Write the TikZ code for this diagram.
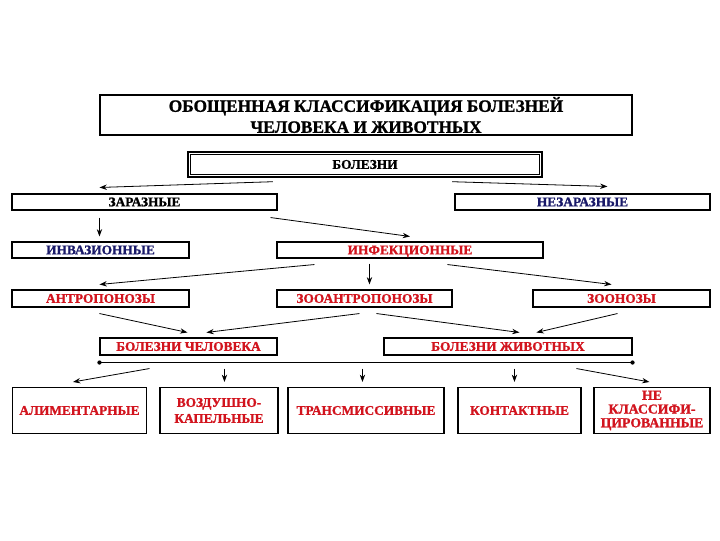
\documentclass[tikz,border=0pt]{standalone}
\usepackage{fontspec}
\setmainfont{Liberation Serif}[BoldFont={Liberation Serif Bold},BoldFeatures={FakeBold=1.2}]
\usetikzlibrary{arrows.meta,calc}
\definecolor{dred}{RGB}{210,20,30}
\definecolor{navy}{RGB}{25,25,105}
\tikzset{
  box/.style={draw=black,line width=0.8pt,fill=white,inner sep=0pt,align=center,
    font=\bfseries\fontsize{10}{11}\selectfont},
  one/.style={text height=7pt,text depth=0.5pt},
  bigbox/.style={box,font=\bfseries\fontsize{10}{12}\selectfont},
  arr/.style={-{Stealth[length=5.5pt,width=4pt]},line width=0.6pt},
  hline/.style={line width=0.9pt},
  dot/.style={circle,fill=black,inner sep=0pt,minimum size=3.2pt}
}
\begin{document}
\begin{tikzpicture}[x=0.75pt,y=-0.75pt]
\useasboundingbox (0,0) rectangle (720,540);
% title
\node[box,minimum width=399pt,minimum height=30pt,font=\bfseries\fontsize{13}{15.75}\selectfont] (title) at (366,115)
  {ОБОЩЕННАЯ КЛАССИФИКАЦИЯ БОЛЕЗНЕЙ\\ЧЕЛОВЕКА И ЖИВОТНЫХ};
% level 1
\node[box,one,line width=1.3pt,minimum width=266pt,minimum height=18.5pt] (bol) at (365,164.5) {БОЛЕЗНИ};
\draw[line width=0.6pt] ($(bol.north west)+(3.5,3.5)$) rectangle ($(bol.south east)+(-3.5,-3.5)$);
% level 2
\node[box,one,minimum width=198.75pt,minimum height=12pt] (zar) at (144.5,202) {ЗАРАЗНЫЕ};
\node[box,one,text=navy,minimum width=191.25pt,minimum height=12pt] (nezar) at (582.5,202) {НЕЗАРАЗНЫЕ};
% level 3
\node[box,one,text=navy,minimum width=132.75pt,minimum height=12pt] (inv) at (100.5,250) {ИНВАЗИОННЫЕ};
\node[box,one,text=dred,minimum width=199.5pt,minimum height=12pt] (inf) at (410,250) {ИНФЕКЦИОННЫЕ};
% level 4
\node[box,one,text=dred,minimum width=132.75pt,minimum height=12.75pt] (antr) at (100.5,298.5) {АНТРОПОНОЗЫ};
\node[box,one,text=dred,minimum width=131.25pt,minimum height=12.75pt] (zooantr) at (364.5,298.5) {ЗООАНТРОПОНОЗЫ};
\node[box,one,text=dred,minimum width=132.75pt,minimum height=12.75pt] (zoon) at (621.5,298.5) {ЗООНОЗЫ};
% level 5
\node[box,one,text=dred,minimum width=132.75pt,minimum height=12.75pt] (chel) at (188.5,346.5) {БОЛЕЗНИ ЧЕЛОВЕКА};
\node[box,one,text=dred,minimum width=186pt,minimum height=12.75pt] (zhiv) at (508,346.5) {БОЛЕЗНИ ЖИВОТНЫХ};
% level 6
\node[bigbox,one,text=dred,minimum width=100.5pt,minimum height=34.5pt] (alim) at (79.5,410.5) {АЛИМЕНТАРНЫЕ};
\node[bigbox,text=dred,minimum width=88.5pt,minimum height=34.5pt] (vozd) at (219,410.5) {ВОЗДУШНО-\\КАПЕЛЬНЫЕ};
\node[bigbox,one,text=dred,minimum width=117pt,minimum height=34.5pt] (trans) at (366,410.5) {ТРАНСМИССИВНЫЕ};
\node[bigbox,one,text=dred,minimum width=92.25pt,minimum height=34.5pt] (kont) at (519.5,410.5) {КОНТАКТНЫЕ};
\node[bigbox,text=dred,minimum width=87pt,minimum height=34.5pt,font=\bfseries\fontsize{10.3}{10.3}\selectfont] (nekl) at (652,410.5) {НЕ\\КЛАССИФИ-\\ЦИРОВАННЫЕ};
% connectors
\draw[arr] ($(bol.south west)+(86,4)$) -- ($(zar.north west)+(88,-6)$);
\draw[arr] ($(bol.south east)+(-91,4)$) -- ($(nezar.north west)+(153,-7)$);
\draw[arr] ($(zar.south west)+(88,7)$) -- ($(inv.north west)+(88,-5)$);
\draw[arr] ($(zar.south east)+(-7,7)$) -- ($(inf.north)+(0,-5)$);
\draw[arr] ($(inf.south west)+(38,6)$) -- ($(antr.north west)+(88,-5)$);
\draw[arr] ($(inf.south west)+(93,5)$) -- ($(zooantr.north west)+(93,-5)$);
\draw[arr] ($(inf.south west)+(171,6)$) -- ($(zoon.north west)+(79,-5)$);
\draw[arr] ($(antr.south west)+(88,6)$) -- ($(chel.north west)+(88,-5)$);
\draw[arr] ($(zooantr.south west)+(83,6)$) -- ($(chel.north west)+(107,-5)$);
\draw[arr] ($(zooantr.south west)+(100,6)$) -- ($(zhiv.north west)+(136,-5)$);
\draw[arr] ($(zoon.south west)+(85,6)$) -- ($(zhiv.north west)+(153,-5)$);
% horizontal collector line
\coordinate (hl) at ($(chel.south west)+(0,7)$);
\coordinate (hr) at ($(zhiv.south east)+(0,7)$);
\draw[hline] (hl) -- (hr);
\node[dot] at (hl) {};
\node[dot] at (hr) {};
\draw[arr] ($(hl)+(50,6)$) -- ($(alim.north west)+(61,-5)$);
\draw[arr] ($(hl)+(125,6)$) -- ($(vozd.north west)+(65,-5)$);
\draw[arr] ($(hl)+(263,6)$) -- ($(trans.north west)+(75,-5)$);
\draw[arr] ($(hl)+(415,6)$) -- ($(kont.north west)+(57,-5)$);
\draw[arr] ($(hl)+(477,6)$) -- ($(nekl.north west)+(56,-5)$);
\end{tikzpicture}
\end{document}
